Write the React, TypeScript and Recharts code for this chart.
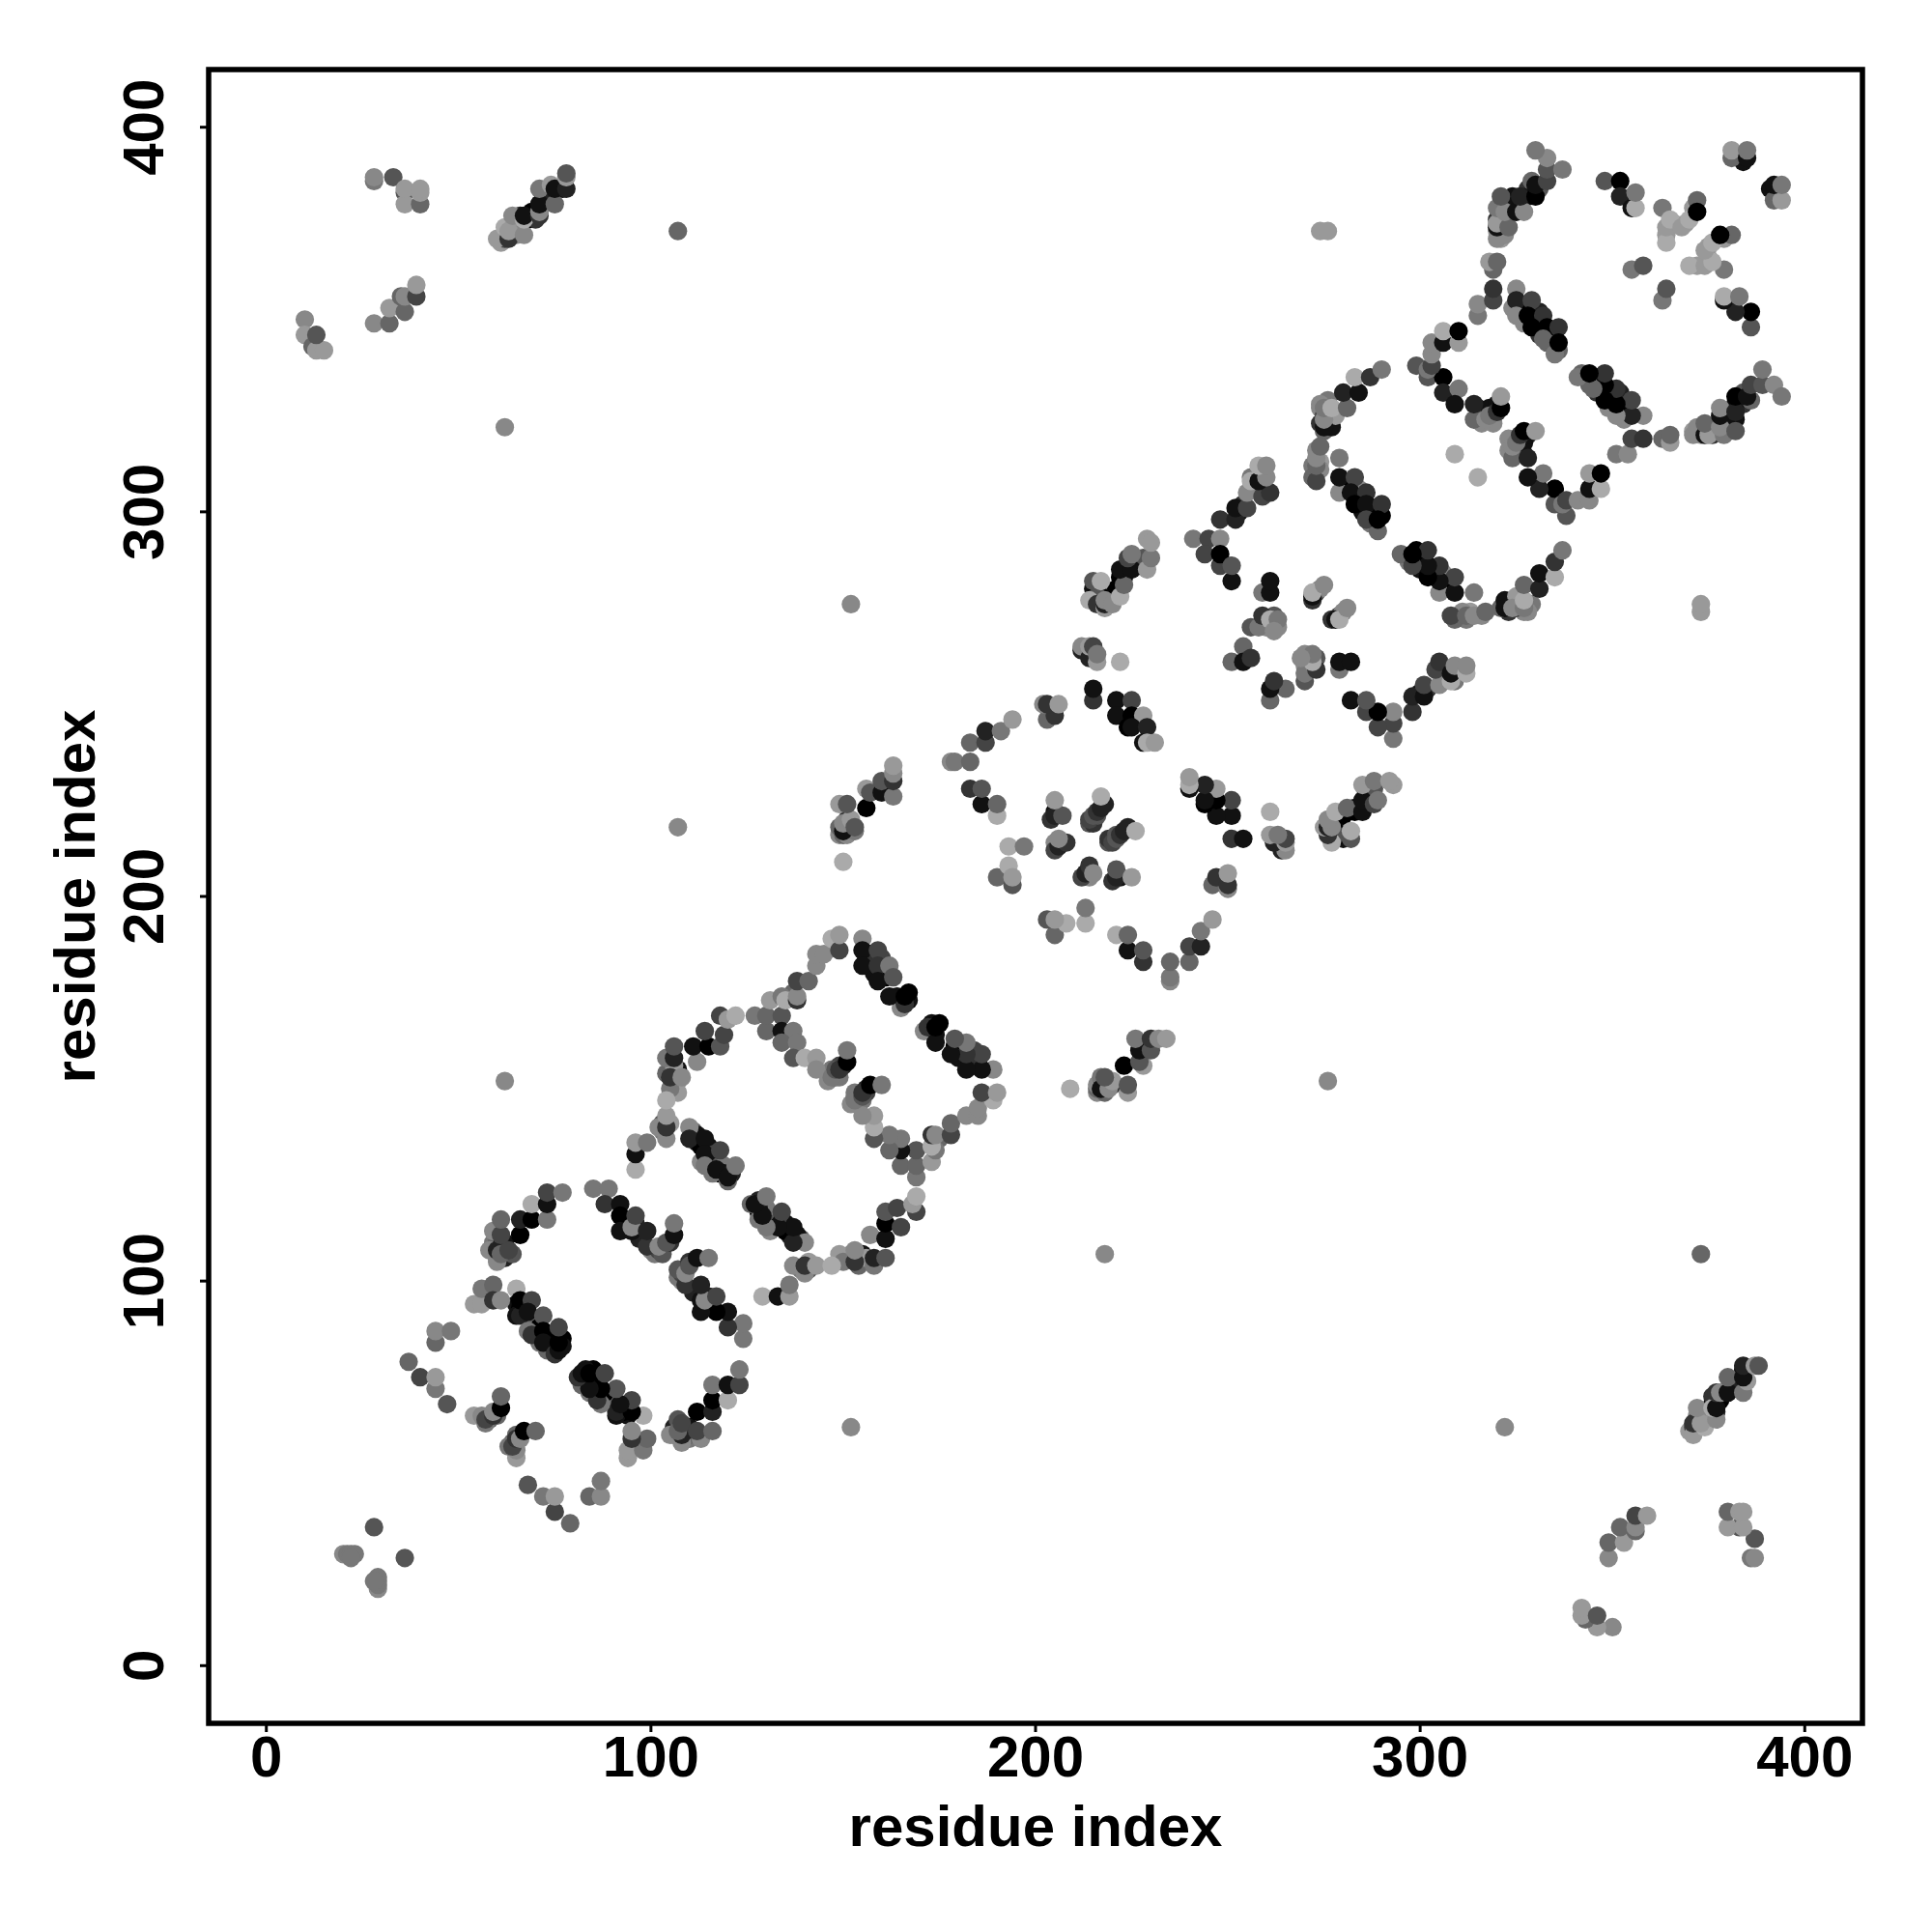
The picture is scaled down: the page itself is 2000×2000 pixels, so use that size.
import React from "react";
import {
  ScatterChart,
  Scatter,
  XAxis,
  YAxis,
  ReferenceArea,
} from "recharts";

// residue i, residue j, gray level (0 = black ... 10 = lightest)
type Contact = [number, number, number];

const axisTicks = [0, 100, 200, 300, 400];

// contacts mostly hidden under others in the dense blobs, so drawn first
const coveredContacts: Contact[] = [
  [65, 94, 1], [66, 93, 0], [67, 92, 2], [69, 90, 1], [70, 89, 6], [71, 88, 0], [70, 86, 8],
  [73, 86, 0], [74, 85, 0], [74, 83, 1], [73, 82, 6], [75, 83, 0], [77, 85, 0], [77, 83, 1], [71, 84, 7],
  [111, 139, 6], [112, 136, 2], [112, 138, 1], [113, 135, 0], [115, 135, 1], [116, 133, 4],
  [115, 132, 0], [116, 131, 1], [118, 130, 5], [118, 128, 0], [119, 130, 7], [119, 128, 1],
  [121, 128, 2], [113, 131, 8], [116, 128, 7],
  [156, 184, 1], [157, 185, 2], [157, 183, 3], [158, 180, 1], [160, 180, 2], [160, 184, 4],
  [161, 179, 0], [165, 173, 2], [164, 174, 1], [167, 173, 1], [167, 175, 0],
  [280, 307, 1], [281, 307, 0], [284, 304, 0], [285, 303, 1], [287, 300, 2], [288, 301, 0],
  [288, 297, 3], [290, 299, 0], [285, 300, 1], [284, 306, 8], [287, 297, 7],
  [326, 353, 1], [327, 353, 0], [328, 349, 0], [330, 350, 1], [331, 349, 0], [331, 352, 2],
  [327, 349, 8], [331, 346, 3], [333, 346, 1], [334, 345, 0], [335, 346, 1], [333, 344, 6],
  [336, 342, 6], [324, 353, 8],
  [315, 327, 1], [316, 325, 5], [316, 323, 8], [318, 327, 1], [319, 325, 7], [319, 323, 8], [320, 328, 1],
  [320, 376, 3], [321, 377, 6], [321, 373, 0], [322, 375, 9], [321, 371, 9], [322, 380, 2],
  [323, 380, 4], [320, 373, 9], [324, 380, 0], [328, 384, 3], [331, 384, 5], [324, 382, 1], [328, 382, 1],
  [215, 280, 1], [216, 279, 0], [219, 279, 6], [220, 278, 4], [221, 280, 0], [223, 283, 1],
  [224, 285, 1], [226, 287, 1], [227, 286, 0], [228, 288, 5], [217, 278, 0], [216, 278, 5],
  [106, 151, 4], [106, 154, 0], [107, 152, 8], [107, 155, 1], [105, 155, 2], [104, 154, 6],
  [107, 149, 9], [106, 156, 9],
  [59, 110, 7], [60, 110, 6], [61, 109, 1], [62, 106, 2], [62, 110, 1], [64, 107, 5], [60, 106, 6],
  [93, 116, 1], [94, 115, 0], [96, 113, 7], [97, 111, 2], [100, 108, 8], [101, 107, 7],
  [102, 108, 4], [103, 107, 5], [105, 110, 3], [93, 114, 0], [96, 115, 2],
  [146, 152, 8], [147, 155, 7], [148, 153, 6], [149, 153, 7], [150, 156, 2], [149, 156, 4],
  [58, 64, 6], [60, 66, 5], [60, 65, 6],
  [274, 327, 8], [275, 325, 4], [276, 324, 1], [274, 323, 3], [276, 323, 0], [276, 329, 7],
  [275, 321, 6], [277, 322, 1], [278, 325, 9],
  [273, 316, 8], [272, 312, 7], [274, 313, 9], [273, 310, 8], [272, 309, 6], [274, 311, 8],
  [214, 219, 5], [215, 219, 3], [218, 224, 2], [216, 221, 5], [205, 222, 1], [204, 220, 3],
  [205, 214, 8], [205, 212, 4],
  [273, 279, 4], [272, 277, 3], [274, 280, 8], [260, 271, 9], [261, 271, 5], [262, 271, 8],
  [263, 270, 8], [260, 270, 8], [262, 273, 5], [259, 271, 6],
  [366, 375, 9], [369, 375, 9], [371, 379, 9], [364, 372, 9],
  [382, 393, 8], [384, 393, 4], [384, 391, 1],
  [149, 216, 8], [149, 218, 6], [150, 216, 6], [151, 217, 1], [151, 220, 3], [152, 219, 0],
  [152, 217, 4], [151, 216, 8], [153, 217, 7],
  [61, 370, 9], [62, 371, 4], [62, 372, 3], [64, 374, 9], [65, 375, 9], [65, 372, 8], [66, 377, 2],
  [68, 376, 0], [69, 378, 0], [70, 376, 3], [72, 381, 1], [73, 383, 1], [74, 381, 2], [76, 384, 1], [77, 384, 1],
  [256, 309, 7], [257, 307, 5], [258, 306, 1], [259, 307, 4], [259, 309, 0], [254, 302, 3], [253, 300, 1],
  [103, 141, 5], [103, 139, 7], [105, 141, 9], [136, 174, 9], [137, 175, 6],
];
const loneContacts: Contact[] = [
  [107, 373, 6], [62, 322, 8], [152, 276, 8], [62, 152, 8], [107, 218, 8],
  [274, 373, 9], [276, 373, 9], [150, 209, 10], [309, 315, 10],
];
const nTerminal: Contact[] = [
  [28, 36, 5], [20, 29, 8], [21, 29, 7], [22, 29, 7], [23, 29, 7], [22, 28, 7],
  [37, 79, 6], [40, 75, 4], [44, 72, 7], [44, 75, 9], [47, 68, 5], [44, 84, 6],
  [44, 87, 8], [48, 87, 7],
  [54, 65, 9], [56, 65, 8], [57, 63, 7], [57, 64, 4], [59, 65, 3], [59, 66, 8],
  [61, 67, 0], [61, 70, 6],
];
const helixB: Contact[] = [
  [54, 94, 9], [56, 94, 9], [56, 98, 7], [59, 99, 6], [59, 95, 3], [61, 95, 8],
  [65, 98, 10], [65, 91, 1], [66, 91, 2], [66, 95, 0], [69, 95, 4], [68, 92, 1],
  [72, 91, 5], [68, 87, 7], [69, 86, 3], [72, 87, 0], [72, 84, 1], [75, 81, 3],
  [76, 82, 1], [76, 84, 0], [76, 88, 4],
];
const arcC: Contact[] = [
  [58, 108, 8], [60, 105, 8], [60, 108, 2], [59, 113, 8], [61, 107, 6], [63, 108, 4],
  [61, 112, 4], [61, 116, 6], [66, 112, 0], [66, 116, 2], [69, 116, 0], [73, 116, 7],
  [69, 120, 10], [73, 120, 1], [73, 123, 4], [77, 123, 7],
];
const arcD: Contact[] = [
  [85, 124, 7], [89, 124, 7], [88, 120, 3], [92, 120, 1], [92, 117, 0], [92, 113, 1],
  [95, 113, 1], [95, 114, 8], [96, 117, 4], [99, 109, 3], [99, 113, 2], [102, 109, 8],
  [104, 110, 5], [106, 112, 1], [106, 115, 7],
];
const bandF: Contact[] = [
  [96, 129, 10], [96, 133, 1], [96, 136, 9], [99, 136, 7],
  [102, 140, 8], [104, 137, 8], [104, 140, 3], [104, 143, 9],
];
const helixG: Contact[] = [
  [110, 140, 8], [110, 137, 2], [114, 137, 1], [114, 133, 1], [114, 130, 7],
  [117, 129, 1], [118, 134, 4], [120, 126, 6], [120, 127, 1], [122, 130, 7],
];
const arcH: Contact[] = [
  [105, 150, 7], [104, 147, 10], [105, 153, 3], [108, 153, 8], [104, 158, 7],
  [106, 158, 2], [106, 161, 5], [112, 157, 8], [111, 161, 1], [115, 161, 0],
  [118, 161, 5], [114, 165, 4], [119, 164, 4], [118, 169, 4], [120, 168, 9], [122, 169, 10],
];
const arcI: Contact[] = [
  [127, 169, 7], [130, 165, 6], [130, 169, 6], [134, 169, 5], [134, 165, 1], [137, 165, 7],
  [134, 162, 6], [138, 162, 7], [137, 158, 5], [140, 158, 10], [143, 158, 9], [143, 155, 8],
  [147, 153, 7], [148, 155, 5], [149, 155, 3], [151, 157, 0], [151, 160, 7],
];
const arcJ: Contact[] = [
  [131, 173, 9], [134, 174, 7], [135, 173, 10], [138, 173, 3], [138, 174, 8], [138, 178, 4],
  [141, 178, 6], [143, 182, 8], [143, 185, 8], [145, 185, 8], [147, 189, 10], [149, 186, 4],
  [149, 190, 9],
];
const helixK: Contact[] = [
  [155, 189, 8], [155, 186, 1], [159, 186, 4], [155, 182, 1], [159, 182, 3], [162, 182, 7],
  [159, 178, 1], [163, 179, 5], [165, 171, 8], [166, 172, 3], [162, 174, 1], [166, 174, 0],
];
const clusterL: Contact[] = [
  [150, 217, 1], [150, 219, 8], [152, 220, 9], [149, 224, 9], [151, 224, 5], [153, 218, 5],
  [156, 223, 0], [156, 228, 9], [157, 227, 5], [160, 227, 1], [160, 230, 5], [163, 226, 7],
  [163, 230, 3], [163, 232, 8], [163, 234, 9],
];
const clusterM: Contact[] = [
  [178, 235, 8], [179, 235, 7], [183, 235, 6], [183, 240, 6], [187, 240, 4],
  [187, 243, 2], [191, 243, 7], [194, 246, 9],
  [183, 228, 3], [186, 224, 1], [186, 228, 5], [190, 221, 10], [190, 224, 6],
  [193, 213, 10], [197, 213, 7], [190, 205, 6], [194, 203, 5], [193, 208, 10], [194, 205, 9],
];
const clusterP: Contact[] = [
  [203, 246, 6], [205, 247, 3], [202, 250, 8], [203, 250, 3], [206, 250, 9],
  [215, 251, 3], [215, 254, 1],
  [221, 251, 1], [225, 251, 4], [221, 247, 1], [225, 247, 0], [228, 247, 9], [224, 244, 0],
  [225, 244, 1], [229, 244, 2], [228, 240, 1], [229, 240, 10], [231, 240, 9],
];
const starOne: Contact[] = [
  [205, 221, 2], [207, 221, 5], [205, 225, 9], [206, 213, 2], [208, 214, 3], [206, 215, 8],
  [214, 220, 4], [215, 221, 5], [216, 222, 3], [217, 223, 2], [217, 226, 10],
];
const clusterR: Contact[] = [
  [214, 277, 10], [215, 282, 5], [216, 276, 3], [218, 275, 9], [218, 276, 2], [217, 282, 10],
  [218, 277, 8], [220, 276, 8], [222, 278, 10], [222, 283, 0], [223, 281, 6], [222, 285, 1],
  [225, 285, 1], [224, 288, 4], [225, 289, 7], [229, 285, 9], [230, 288, 7], [229, 293, 9],
  [230, 292, 9],
  [212, 264, 2], [212, 265, 8], [214, 262, 2], [214, 265, 9], [215, 265, 4], [216, 261, 9],
  [216, 263, 7], [222, 261, 10],
];
const clusterT: Contact[] = [
  [241, 293, 7], [245, 293, 4], [248, 293, 8], [244, 289, 4], [248, 286, 4], [248, 289, 0],
  [251, 282, 1], [251, 286, 5], [248, 298, 3], [252, 298, 2], [252, 301, 1], [255, 301, 4],
  [255, 305, 8], [259, 304, 4], [261, 305, 3], [256, 308, 10], [258, 308, 1], [260, 309, 8],
  [258, 312, 10], [260, 312, 8],
];
const starTwo: Contact[] = [
  [259, 279, 7], [261, 279, 1], [261, 282, 1], [272, 278, 1], [272, 279, 10], [275, 281, 8],
  [256, 270, 5], [258, 270, 7], [259, 273, 3], [261, 272, 10], [263, 272, 7], [262, 269, 8],
  [254, 265, 6], [251, 261, 6], [254, 261, 1], [256, 262, 3],
];
const clusterU: Contact[] = [
  [273, 308, 4], [273, 312, 6], [273, 314, 8], [274, 317, 6], [279, 314, 7],
  [274, 328, 8], [275, 322, 1], [275, 324, 8], [275, 327, 7], [277, 327, 10], [281, 327, 6],
  [280, 331, 2], [284, 331, 1], [283, 335, 10], [287, 335, 3], [290, 337, 7],
];
const helixW: Contact[] = [
  [279, 305, 8], [279, 309, 1], [283, 309, 4], [282, 305, 1], [286, 305, 3], [283, 302, 0],
  [286, 302, 1], [290, 302, 3], [289, 295, 6], [286, 298, 4], [289, 298, 0],
];
const helixX: Contact[] = [
  [302, 335, 5], [306, 335, 0], [306, 331, 2], [310, 332, 7], [309, 328, 1], [314, 324, 6],
  [317, 324, 8], [318, 325, 7], [314, 328, 2], [320, 326, 3], [321, 327, 0], [321, 330, 9],
  [299, 338, 5], [302, 337, 7], [303, 338, 4], [303, 341, 8], [303, 344, 8], [306, 344, 1], [306, 347, 10],
];
const arcY: Contact[] = [
  [310, 344, 9], [310, 347, 0], [315, 351, 7], [315, 354, 8], [319, 355, 4], [319, 358, 3],
  [319, 363, 6], [318, 365, 9], [320, 365, 6], [320, 371, 8], [322, 372, 8], [320, 374, 1],
  [320, 375, 9], [323, 374, 6], [320, 379, 7], [322, 378, 8], [321, 382, 5], [325, 378, 1],
  [327, 378, 8], [326, 382, 2], [330, 382, 0], [329, 386, 6], [330, 385, 1], [333, 386, 4],
  [333, 389, 5], [333, 392, 8], [330, 394, 7], [337, 389, 7],
];
const helixZ: Contact[] = [
  [325, 358, 8], [325, 355, 2], [329, 355, 4], [325, 351, 8], [328, 351, 0], [332, 351, 3],
  [329, 348, 0], [333, 348, 0], [336, 348, 3], [335, 341, 7], [332, 345, 6], [336, 344, 0],
];
const cTerminal: Contact[] = [
  [348, 386, 5], [352, 386, 0], [352, 382, 2], [355, 379, 1], [356, 379, 10], [356, 383, 7],
  [355, 363, 7], [358, 364, 5],
  [363, 379, 7], [364, 370, 10], [364, 374, 9], [365, 376, 10], [368, 374, 9], [370, 376, 10],
  [372, 381, 6], [372, 378, 0],
  [381, 392, 6], [381, 394, 9], [385, 392, 1], [385, 394, 7],
];
const longRange: Contact[] = [
  [28, 386, 7], [28, 387, 8], [33, 387, 5], [36, 383, 5], [36, 380, 9], [36, 384, 9],
  [40, 380, 6], [40, 383, 9], [40, 384, 9],
  [28, 349, 8], [32, 349, 6], [32, 353, 9], [35, 356, 6], [36, 352, 6], [36, 356, 8],
  [39, 356, 4], [39, 359, 9],
  [10, 350, 8], [10, 346, 9], [12, 343, 6], [13, 342, 9], [15, 342, 9], [13, 346, 5],
  [60, 371, 9], [63, 371, 3], [62, 374, 10], [63, 373, 9], [67, 372, 8], [64, 377, 8],
  [67, 376, 10], [67, 377, 1], [71, 377, 3], [71, 378, 8], [71, 380, 1], [75, 380, 6],
  [71, 384, 7], [74, 385, 9], [75, 384, 1], [78, 384, 2], [78, 387, 9], [78, 388, 5],
];

// contacts were read from the upper triangle; the map is symmetric about i = j
const upperTriangle: Contact[] = [
  ...coveredContacts, ...loneContacts, ...nTerminal, ...helixB, ...arcC, ...arcD, ...bandF,
  ...helixG, ...arcH, ...arcI, ...arcJ, ...helixK, ...clusterL, ...clusterM, ...clusterP,
  ...starOne, ...clusterR, ...clusterT, ...starTwo, ...clusterU, ...helixW, ...helixX, ...arcY,
  ...helixZ, ...cTerminal, ...longRange,
];
const points = upperTriangle.flatMap(([i, j, level]) => [
  { x: i, y: j, level },
  { x: j, y: i, level },
]);

const FONT = "'Liberation Sans', Arial, sans-serif";

function XTick({ x, payload }: any) {
  return (
    <text x={x} y={1839} textAnchor="middle" fontFamily={FONT} fontWeight="bold" fontSize={60} fill="#000">
      {payload.value}
    </text>
  );
}

function YTick({ y, payload }: any) {
  return (
    <text
      transform={`translate(169 ${y}) rotate(-90)`}
      textAnchor="middle"
      fontFamily={FONT}
      fontWeight="bold"
      fontSize={60}
      fill="#000"
    >
      {payload.value}
    </text>
  );
}

function Dot({ cx, cy, payload }: any) {
  const g = payload.level * 17;
  return <circle cx={cx} cy={cy} r={9.6} fill={`rgb(${g},${g},${g})`} />;
}

export default function App() {
  return (
    <div style={{ position: "absolute", left: 0, top: 0, width: 2000, height: 2000, background: "#fff" }}>
      <ScatterChart width={2000} height={2000} margin={{ top: 72, right: 72, bottom: 0, left: 0 }}>
        <XAxis
          type="number"
          dataKey="x"
          domain={[-15, 415]}
          ticks={axisTicks}
          height={216}
          axisLine={false}
          tickSize={9}
          tickLine={{ stroke: "#000", strokeWidth: 3 }}
          tick={<XTick />}
          interval={0}
          label={{
            content: () => (
              <text x={1072} y={1911} textAnchor="middle" fontFamily={FONT} fontWeight="bold" fontSize={60} fill="#000">
                residue index
              </text>
            ),
          }}
        />
        <YAxis
          type="number"
          dataKey="y"
          domain={[-15, 415]}
          ticks={axisTicks}
          width={216}
          axisLine={false}
          tickSize={9}
          tickLine={{ stroke: "#000", strokeWidth: 3 }}
          tick={<YTick />}
          interval={0}
          label={{
            content: () => (
              <text
                transform="translate(98 928) rotate(-90)"
                textAnchor="middle"
                fontFamily={FONT}
                fontWeight="bold"
                fontSize={60}
                fill="#000"
              >
                residue index
              </text>
            ),
          }}
        />
        <Scatter data={points} isAnimationActive={false} shape={<Dot />} />
        <ReferenceArea x1={-15} x2={415} y1={-15} y2={415} fill="none" stroke="#000" strokeWidth={5.5} />
      </ScatterChart>
    </div>
  );
}
